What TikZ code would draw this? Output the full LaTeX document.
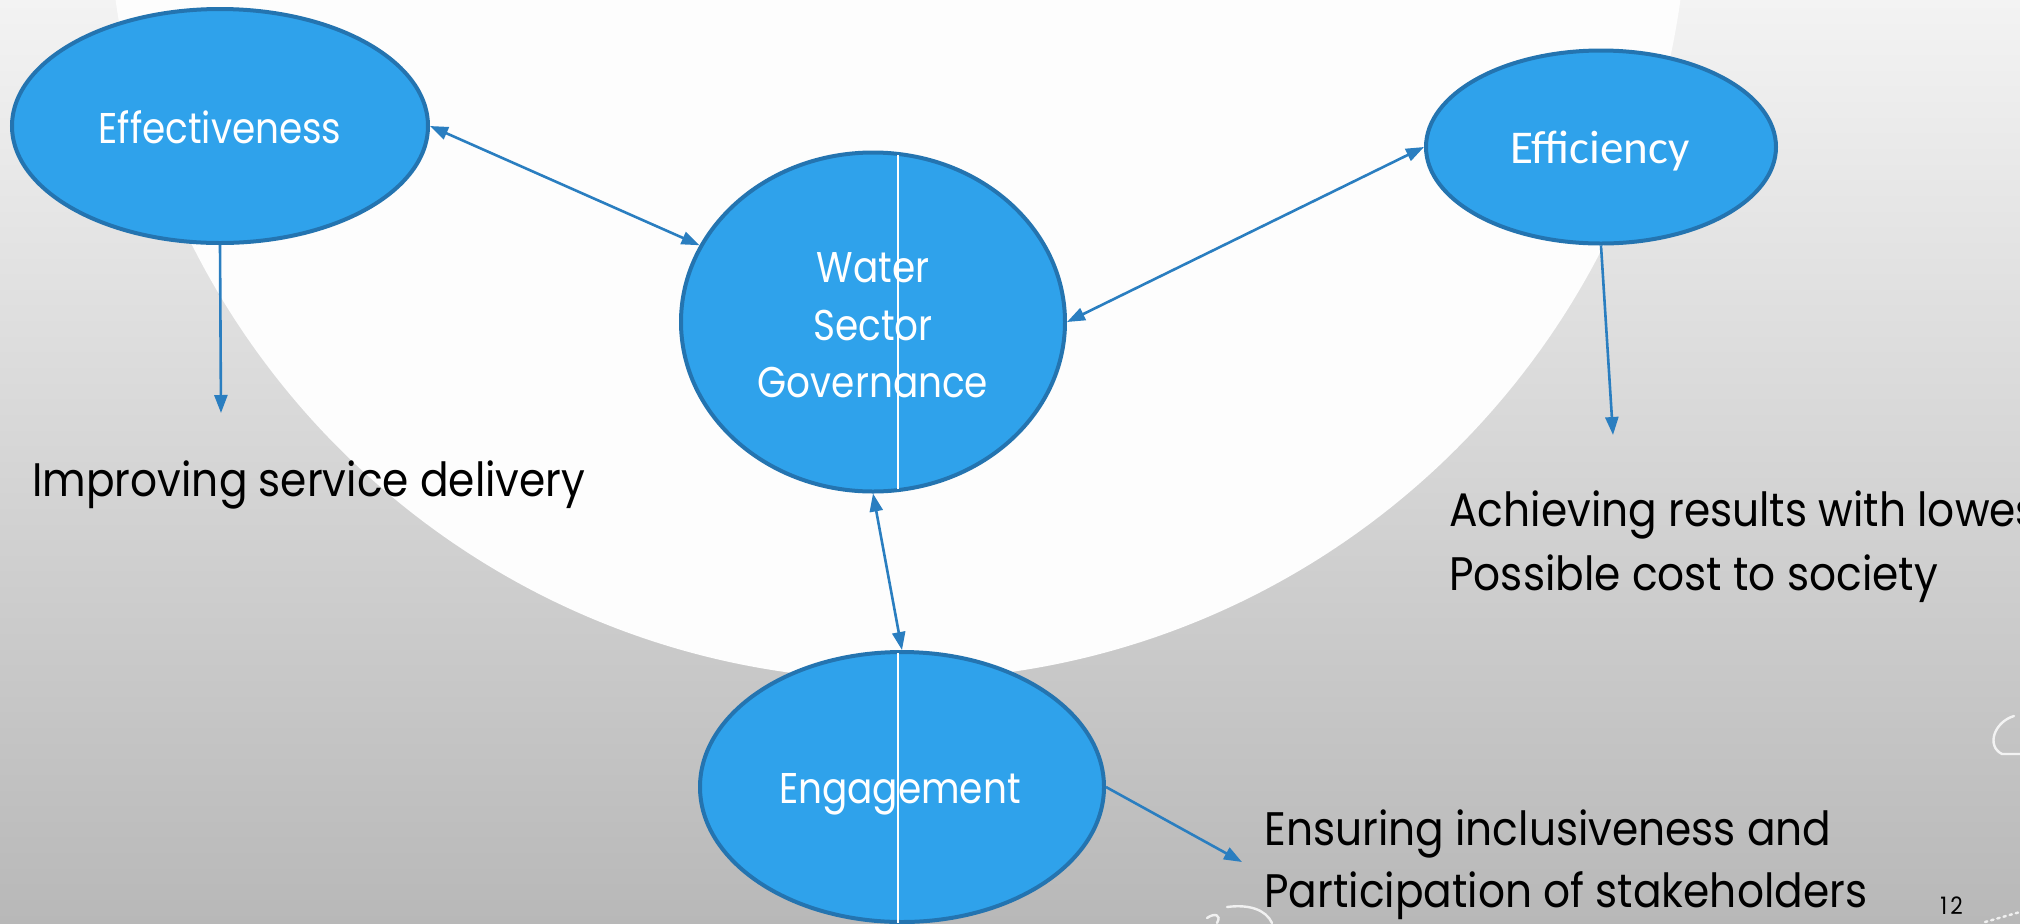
\documentclass[tikz,border=0pt]{standalone}
\usepackage{fontspec}
\setmainfont{Poppins}[FakeStretch=0.87]
\newfontfamily\capfont{Poppins}[FakeStretch=0.9]
\newfontfamily\calfont{Carlito}
\usetikzlibrary{shapes.geometric,arrows.meta}

\definecolor{bgtop}{HTML}{F3F3F3}
\definecolor{bgbot}{HTML}{B8B8B8}
\definecolor{halo}{HTML}{FDFDFD}
\definecolor{blobfill}{HTML}{2FA2EB}
\definecolor{blobedge}{HTML}{2474B0}
\definecolor{linkcol}{HTML}{2A7EC0}

\begin{document}
\begin{tikzpicture}[x=0.5pt,y=-0.5pt,
  blob/.style={ellipse, draw=blobedge, fill=blobfill, line width=2pt, inner sep=0pt},
  inlabel/.style={text=white, inner sep=0pt, anchor=base, font=\fontsize{21.5}{26}\selectfont},
  caption/.style={text=black, inner sep=0pt, anchor=base west, font=\capfont\fontsize{23.5}{28}\selectfont},
  tipa/.tip={Triangle[length=9pt,width=6.5pt]},
  link/.style={draw=linkcol, line width=1.3pt, tipa-tipa},
  outlink/.style={draw=linkcol, line width=1.3pt, -tipa},
  seam/.style={draw=white, line width=0.8pt},
  swirl/.style={draw=white, line width=1.2pt, opacity=0.8, line cap=round}]

  % canvas and backdrop
  \useasboundingbox (0,0) rectangle (2020,923);
  \clip (0,0) rectangle (2020,923);
  \shade[top color=bgtop, bottom color=bgbot] (0,0) rectangle (2020,923);
  \fill[halo] (898,-110) circle [radius=790];

  % small decorative curls
  \draw[swirl] (2014,716) .. controls (1994,722) and (1986,746) .. (2002,754) -- (2020,754);
  \draw[swirl] (1227,907) .. controls (1250,904) and (1266,910) .. (1272,923);
  \draw[swirl] (1207,918) .. controls (1214,913) and (1222,914) .. (1217,923);
  \draw[swirl, dotted] (1985,922) -- (2020,912);

  % the four ellipses
  \node[blob, minimum width=208pt, minimum height=117pt]   (eff)   at (220,126) {};
  \node[blob, minimum width=192pt, minimum height=169.5pt] (wsg)   at (873,322) {};
  \node[blob, minimum width=175pt, minimum height=96.5pt]  (effic) at (1601,147) {};
  \node[blob, minimum width=202pt, minimum height=135pt]   (eng)   at (902,787) {};

  % thin seam through the middle ellipses
  \draw[seam] (898,155) -- (898,489);
  \draw[seam] (898,653) -- (898,923);

  % labels inside the ellipses
  \node[inlabel] (leff)   at (220,143) {Effectiveness};
  \node[inlabel] (lwat)   at (873,282) {Water};
  \node[inlabel] (lsec)   at (873,340) {Sector};
  \node[inlabel] (lgov)   at (873,397) {Governance};
  \node[inlabel, font=\calfont\fontsize{23.5}{28}\selectfont] (lefc) at (1600,163) {Efficiency};
  \node[inlabel] (leng)   at (900,803) {Engagement};

  % outcome captions
  \node[caption] (teff)  at (32,496)   {Improving service delivery};
  \node[caption] (tefc1) at (1449,526) {Achieving results with lowest};
  \node[caption] (tefc2) at (1449,590) {Possible cost to society};
  \node[caption] (teng1) at (1264,845) {Ensuring inclusiveness and};
  \node[caption] (teng2) at (1264,907) {Participation of stakeholders};
  \node[caption, font=\capfont\fontsize{12}{14}\selectfont] (pgno) at (1940,914) {1\kern1.5pt2};

  % free ends of the outward arrows
  \coordinate (effend)   at (221,413);
  \coordinate (eficend)  at (1613,435);
  \coordinate (engend)   at (1242,862);

  % connectors
  \draw[link] (eff.east) -- (wsg);
  \draw[link] (wsg.east) -- (effic.west);
  \draw[link] (wsg.south) -- (eng.north);
  \draw[outlink] (eff.south) -- (effend);
  \draw[outlink] (effic.south) -- (eficend);
  \draw[outlink] (eng.east) -- (engend);
\end{tikzpicture}
\end{document}
